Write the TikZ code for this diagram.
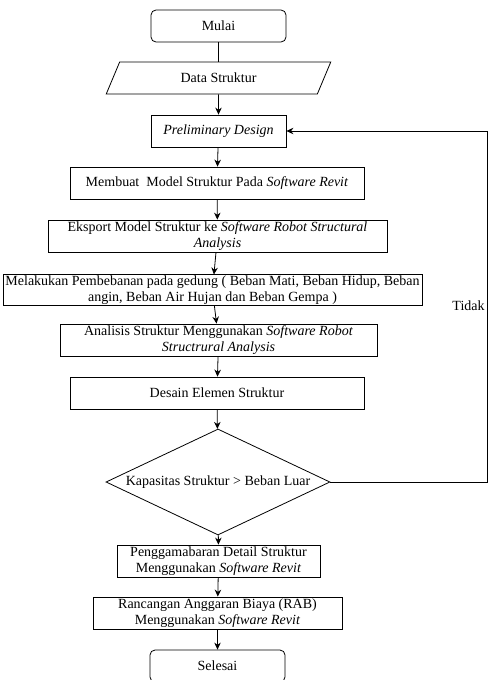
\documentclass[tikz,border=0pt]{standalone}
\usepackage{fontspec}
\setmainfont{Liberation Serif}
\usepackage{tikz}
\usetikzlibrary{
  positioning, arrows.meta,
  shapes.geometric
}

\begin{document}
\begin{tikzpicture}[x=1pt,y=-1pt,
    font=\fontsize{14}{15.5}\selectfont,
    line width=0.8pt, >={Stealth[length=7pt,width=6.5pt]},
    proses/.style={draw,minimum height=32pt,inner sep=1pt,align=center},
    terminal/.style={proses,rounded corners=5pt,minimum width=135pt},
    masukan/.style={draw,trapezium,trapezium left angle=66,trapezium right angle=114,
      trapezium stretches=true,minimum width=225pt,minimum height=32pt,inner sep=1pt},
    keputusan/.style={draw,diamond,aspect=2.1,inner sep=0pt,minimum width=224pt,minimum height=106pt}]
      \useasboundingbox (0,0) rectangle (489,680);
      \node[terminal] (mulai) at (218.5,26) {Mulai};
      \node[masukan] (data) at (218.5,78) {Data Struktur};
      \node[proses,minimum width=135pt] (prelim) at (218.5,131) {\textit{Preliminary Design}};
      \node[proses,minimum width=294pt] (model) at (217,183) {Membuat\ \ Model Struktur Pada \textit{Software Revit}};
      \node[proses,minimum width=339pt] (eksport) at (217.5,236)
        {Eksport Model Struktur ke \textit{Software Robot Structural}\\\textit{Analysis}};
      \node[proses,minimum width=419pt,minimum height=28pt] (beban) at (212.5,290)
        {Melakukan Pembebanan pada gedung ( Beban Mati, Beban Hidup, Beban\\angin, Beban Air Hujan dan Beban Gempa )};
      \node[proses,minimum width=317pt] (analisis) at (218.5,340)
        {Analisis Struktur Menggunakan \textit{Software Robot}\\\textit{Structrural Analysis}};
      \node[proses,minimum width=294pt] (desain) at (217,393) {Desain Elemen Struktur};
      \node[keputusan] (cek) at (218,482) {Kapasitas Struktur > Beban Luar};
      \node[proses,minimum width=203pt] (detail) at (218.5,561)
        {Penggamabaran Detail Struktur\\Menggunakan \textit{Software Revit}};
      \node[proses,minimum width=249pt] (rab) at (217.5,613)
        {Rancangan Anggaran Biaya (RAB)\\Menggunakan \textit{Software Revit}};
      \node[terminal] (selesai) at (217.5,666) {Selesai};
      % alur utama
      \draw (mulai)--(data);
      \draw[->] (data)--(prelim);
      \draw[->] (prelim)--(model);
      \draw[->] (model)--(eksport);
      \draw[->] (eksport)--(beban);
      \draw[->] (beban)--(analisis);
      \draw[->] (analisis)--(desain);
      \draw[->] (desain)--(cek);
      \draw[->] (cek)--(detail);
      \draw[->] (detail)--(rab);
      \draw[->] (rab)--(selesai);
      % kembali ke preliminary design
      \coordinate (balik) at (487.5,131);
      \draw[->] (cek.east) -| (balik) -- (prelim.east);
      \node[anchor=east,inner sep=1pt] (tidak) at (486,306) {Tidak};
    \end{tikzpicture}
\end{document}
